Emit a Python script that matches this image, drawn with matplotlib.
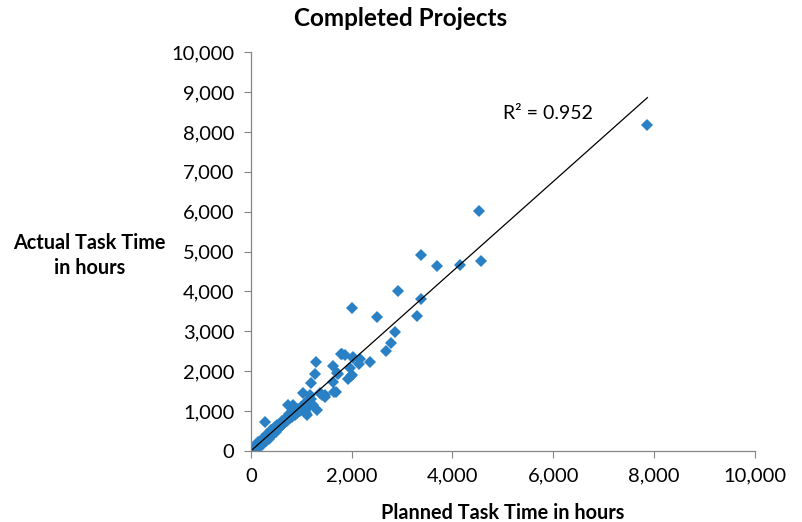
import numpy as np
import matplotlib.pyplot as plt
from matplotlib.ticker import FuncFormatter

plt.rcParams['font.family'] = ['Lato', 'DejaVu Sans']

# planned vs actual task hours per completed project
planned = [
    30, 60, 80, 100, 120, 150, 170, 190, 200, 220, 240, 250, 270, 280, 300,
    310, 330, 350, 360, 380, 400, 410, 430, 450, 460, 480, 500, 520, 540, 560,
    580, 600, 620, 650, 680, 700, 720, 750, 780, 800, 820, 850, 870, 900, 920,
    950, 980, 1000, 1030, 1050, 1080, 1100, 1130, 1150, 1200,
    210, 440, 280, 740, 840, 870, 970, 1040, 1070, 1100, 1105, 1240, 1300,
    1180, 1200, 1270, 1290, 1370, 1400, 1470, 1470, 1620, 1630, 1650, 1690,
    1700, 1730, 1780, 1800, 1870, 1930, 1960, 1980, 2000, 2000, 2020, 2030,
    2150, 2160, 2360, 2500, 2670, 2770, 2860, 2920, 3300, 3370, 3370, 3690,
    4140, 4530, 4560, 7870,
    140, 320, 390, 470, 520, 610, 690, 760, 830, 910, 640, 560, 350, 180,
]
actual = [
    40, 90, 60, 150, 110, 200, 140, 250, 190, 300, 210, 330, 280, 350, 250,
    400, 320, 420, 330, 470, 380, 520, 420, 560, 440, 530, 470, 620, 560, 650,
    600, 700, 640, 780, 720, 800, 750, 880, 820, 900, 860, 960, 900, 1000, 950,
    1060, 1000, 1100, 1050, 1150, 1000, 1220, 1100, 1250, 1300,
    150, 440, 720, 1150, 1150, 945, 1030, 1450, 1030, 960, 900, 1150, 1030,
    1400, 1700, 1920, 2240, 1450, 1400, 1350, 1400, 2140, 1740, 1480, 1470,
    1950, 1920, 2440, 2420, 2400, 1800, 2070, 1880, 3590, 1900, 2330, 2360,
    2170, 2300, 2220, 3370, 2520, 2700, 2990, 4010, 3390, 3810, 4910, 4650,
    4660, 6010, 4760, 8180,
    230, 430, 520, 600, 660, 760, 830, 920, 1010, 1060, 680, 580, 300, 120,
]
r2_label = "R² = 0.952"

x = np.array(planned, dtype=float)
y = np.array(actual, dtype=float)

fig = plt.figure(figsize=(8.02, 5.22), dpi=100)
ax = fig.add_axes([0.313, 0.136, 0.628, 0.764])

ax.plot(x, y, linestyle='none', marker='D', ms=5.8, color='#2a80c4',
        markeredgewidth=0, zorder=2)

# linear trend line across the data range
slope, intercept = np.polyfit(x, y, 1)
xs = np.array([x.min(), x.max()])
ax.plot(xs, slope * xs + intercept, color='black', lw=0.9, zorder=3)

ax.text(5000, 8470, r2_label, fontsize=14, va='center', ha='left')

ax.set_xlim(0, 10000)
ax.set_ylim(0, 10000)
ax.set_xticks(np.arange(0, 10001, 2000))
ax.set_yticks(np.arange(0, 10001, 1000))
fmt = FuncFormatter(lambda v, p: "{:,.0f}".format(v))
ax.xaxis.set_major_formatter(fmt)
ax.yaxis.set_major_formatter(fmt)

for side in ['top', 'right']:
    ax.spines[side].set_visible(False)
for side in ['left', 'bottom']:
    ax.spines[side].set_color('#868686')
    ax.spines[side].set_linewidth(0.9)
ax.tick_params(direction='out', length=5, color='#868686', labelsize=14.5,
               labelcolor='black', pad=7)

ax.set_xlabel("Planned Task Time in hours", fontsize=14.3, fontweight='bold',
              labelpad=13)
fig.text(0.112, 0.511, "Actual Task Time\nin hours", fontsize=14.3,
         fontweight='bold', ha='center', va='center', linespacing=1.3)
fig.text(0.5, 0.965, "Completed Projects", fontsize=17.5, fontweight='bold',
         ha='center', va='center')

fig.savefig("out.png", dpi=100)
